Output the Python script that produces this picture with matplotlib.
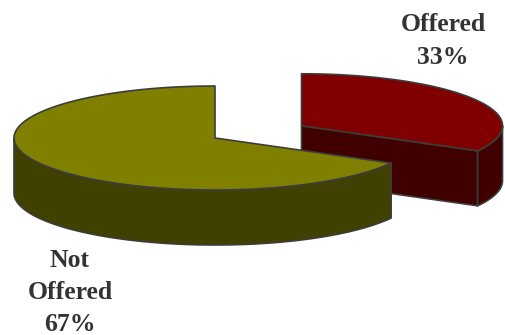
import numpy as np
import matplotlib
matplotlib.use("Agg")
import matplotlib.pyplot as plt
from matplotlib.patches import Polygon

# slice data
labels = ["Offered", "Not\nOffered"]
values = [33, 67]
top_colors = ["#800000", "#808000"]
side_colors = ["#400000", "#404000"]
explode = [0.5, 0.0]

# pie geometry in pixels (y grows downward)
cx, cy = 215, 138
rx, ry = 201, 52
depth = 55
edge = "#3c3c3c"


def pt(c, ang, dy=0):
    a = np.radians(ang)
    return (c[0] + rx * np.cos(a), c[1] - ry * np.sin(a) + dy)


def arc(c, a0, a1, dy=0, n=120):
    angs = np.linspace(a0, a1, n)
    return [pt(c, a, dy) for a in angs]


fig = plt.figure(figsize=(5.05, 3.35), dpi=100)
ax = fig.add_axes([0, 0, 1, 1])
ax.set_xlim(0, 505)
ax.set_ylim(335, 0)
ax.axis("off")

# angles: first slice ends at 90 deg (12 o'clock), going clockwise
fracs = np.array(values) / sum(values)
starts = []
a_end = 90.0
for f in fracs:
    starts.append((a_end - 360 * f, a_end))
    a_end = a_end - 360 * f

for i, (a0, a1) in enumerate(starts):
    mid = np.radians((a0 + a1) / 2)
    c = (cx + explode[i] * rx * np.cos(mid), cy - explode[i] * ry * np.sin(mid) + 2 * explode[i])
    kw = dict(facecolor=side_colors[i], edgecolor=edge, lw=1.2, joinstyle="round")
    # radial faces that point toward the viewer
    if np.cos(np.radians(a0)) > 1e-6:
        p = pt(c, a0)
        ax.add_patch(Polygon([c, p, (p[0], p[1] + depth), (c[0], c[1] + depth)], **kw))
    if np.cos(np.radians(a1)) < -1e-6:
        p = pt(c, a1)
        ax.add_patch(Polygon([c, p, (p[0], p[1] + depth), (c[0], c[1] + depth)], **kw))
    # front part of the outer wall (sin < 0)
    lo, hi = a0 % 360, a0 % 360 + (a1 - a0)
    for k in range(-1, 3):
        f0, f1 = 180 + 360 * k, 360 + 360 * k
        s0, s1 = max(lo, f0), min(hi, f1)
        if s1 > s0:
            top = arc(c, s0, s1)
            bot = arc(c, s1, s0, dy=depth)
            ax.add_patch(Polygon(top + bot, **kw))
    # top face
    ax.add_patch(Polygon([c] + arc(c, a0, a1), facecolor=top_colors[i],
                         edgecolor=edge, lw=1.2, joinstyle="round"))

txt = dict(ha="center", va="center", fontsize=18.5, fontweight="bold",
           family="Liberation Serif", color="#333333", linespacing=1.52)
ax.text(443, 41, f"{labels[0]}\n{values[0]}%", **txt)
ax.text(70, 292.5, f"{labels[1]}\n{values[1]}%", **txt)

fig.savefig("out.png", dpi=100)
